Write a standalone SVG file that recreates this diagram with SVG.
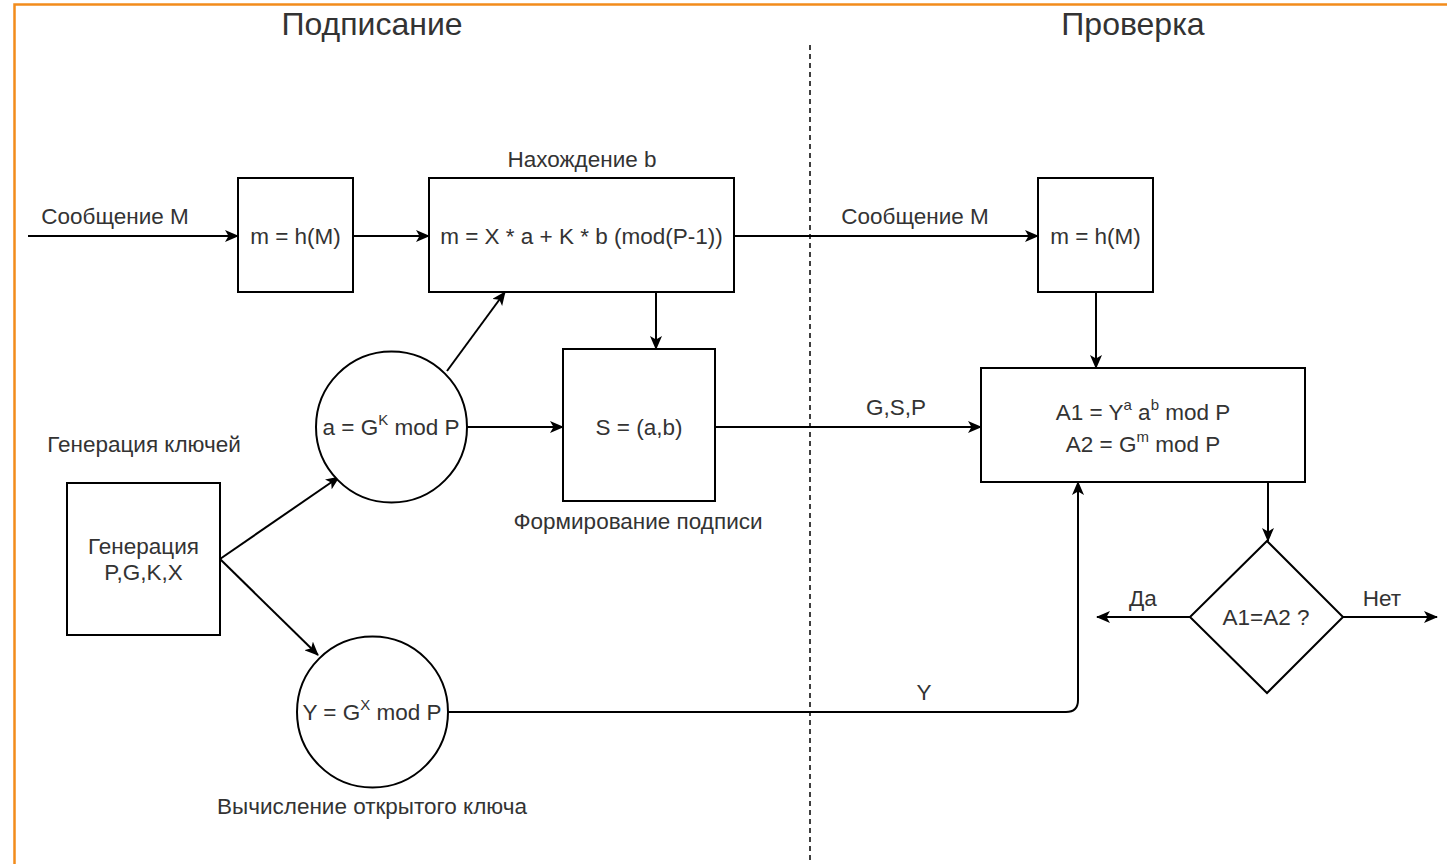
<svg xmlns="http://www.w3.org/2000/svg" width="1447" height="864" viewBox="0 0 1447 864">
  <defs>
    <marker id="arrow" viewBox="0 0 14 12" refX="13" refY="6" markerWidth="14" markerHeight="12" markerUnits="userSpaceOnUse" orient="auto">
      <path d="M0,0 L14,6 L0,12 L3.5,6 Z" fill="#000"/>
    </marker>
  </defs>
  <style>
    text { font-family: "Liberation Sans", Arial, sans-serif; fill: #333; }
    .t { font-size: 22.5px; }
    .title { font-size: 32px; }
    .shape { fill: #fff; stroke: #000; stroke-width: 2; }
    .edge { fill: none; stroke: #000; stroke-width: 2; }
    .sup { font-size: 15px; }
  </style>
  <rect x="0" y="0" width="1447" height="864" fill="#fff"/>
  <!-- frame -->
  <path d="M14.5,864 L14.5,4.5 L1447,4.5" fill="none" stroke="#f28c1c" stroke-width="2.5"/>

  <!-- section titles and divider -->
  <text class="title" x="372" y="35" text-anchor="middle">Подписание</text>
  <text class="title" x="1133" y="35" text-anchor="middle">Проверка</text>
  <line x1="810" y1="45" x2="810" y2="864" stroke="#000" stroke-width="1.5" stroke-dasharray="5,4"/>

  <g id="connectors">
    <path class="edge" d="M28,236 L238,236" marker-end="url(#arrow)"/>
    <path class="edge" d="M353,236 L429,236" marker-end="url(#arrow)"/>
    <path class="edge" d="M734,236 L1038,236" marker-end="url(#arrow)"/>
    <path class="edge" d="M1096,292 L1096,368" marker-end="url(#arrow)"/>
    <path class="edge" d="M656,292 L656,349" marker-end="url(#arrow)"/>
    <path class="edge" d="M447,371 L505,292" marker-end="url(#arrow)"/>
    <path class="edge" d="M467,427 L563,427" marker-end="url(#arrow)"/>
    <path class="edge" d="M715,427 L981,427" marker-end="url(#arrow)"/>
    <path class="edge" d="M220,559 L339,477" marker-end="url(#arrow)"/>
    <path class="edge" d="M220,559 L318,655" marker-end="url(#arrow)"/>
    <path class="edge" d="M448,712 L1066,712 Q1078,712 1078,700 L1078,482" marker-end="url(#arrow)"/>
    <path class="edge" d="M1268,482 L1268,541" marker-end="url(#arrow)"/>
    <path class="edge" d="M1190,617 L1097,617" marker-end="url(#arrow)"/>
    <path class="edge" d="M1343,617 L1437,617" marker-end="url(#arrow)"/>
    <text class="t" x="115" y="224" text-anchor="middle">Сообщение M</text>
    <text class="t" x="915" y="224" text-anchor="middle">Сообщение M</text>
    <text class="t" x="896" y="415" text-anchor="middle">G,S,P</text>
    <text class="t" x="924" y="700" text-anchor="middle">Y</text>
    <text class="t" x="1143" y="606" text-anchor="middle">Да</text>
    <text class="t" x="1382" y="606" text-anchor="middle">Нет</text>
  </g>

  <g id="hash-sign">
    <rect class="shape" x="238" y="178" width="115" height="114"/>
    <text class="t" x="295.5" y="244" text-anchor="middle">m = h(M)</text>
  </g>

  <g id="find-b">
    <rect class="shape" x="429" y="178" width="305" height="114"/>
    <text class="t" x="581.5" y="244" text-anchor="middle">m = X * a + K * b (mod(P-1))</text>
    <text class="t" x="582" y="167" text-anchor="middle">Нахождение b</text>
  </g>

  <g id="signature">
    <rect class="shape" x="563" y="349" width="152" height="152"/>
    <text class="t" x="639" y="435" text-anchor="middle">S = (a,b)</text>
    <text class="t" x="638" y="529" text-anchor="middle">Формирование подписи</text>
  </g>

  <g id="calc-a">
    <circle class="shape" cx="391.5" cy="427" r="75.5"/>
    <text class="t" x="391" y="435" text-anchor="middle">a = G<tspan class="sup" dy="-10">K</tspan><tspan dy="10"> mod P</tspan></text>
  </g>

  <g id="keygen">
    <rect class="shape" x="67" y="483" width="153" height="152"/>
    <text class="t" x="143.5" y="554" text-anchor="middle">Генерация</text>
    <text class="t" x="143.5" y="580" text-anchor="middle">P,G,K,X</text>
    <text class="t" x="144" y="452" text-anchor="middle">Генерация ключей</text>
  </g>

  <g id="public-key">
    <circle class="shape" cx="372.5" cy="712" r="75.5"/>
    <text class="t" x="372" y="720" text-anchor="middle">Y = G<tspan class="sup" dy="-10">X</tspan><tspan dy="10"> mod P</tspan></text>
    <text class="t" x="372" y="814" text-anchor="middle">Вычисление открытого ключа</text>
  </g>

  <g id="hash-verify">
    <rect class="shape" x="1038" y="178" width="115" height="114"/>
    <text class="t" x="1095.5" y="244" text-anchor="middle">m = h(M)</text>
  </g>

  <g id="compute-a1-a2">
    <rect class="shape" x="981" y="368" width="324" height="114"/>
    <text class="t" x="1143" y="420" text-anchor="middle">A1 = Y<tspan class="sup" dy="-10">a</tspan><tspan dy="10"> a</tspan><tspan class="sup" dy="-10">b</tspan><tspan dy="10"> mod P</tspan></text>
    <text class="t" x="1143" y="452" text-anchor="middle">A2 = G<tspan class="sup" dy="-10">m</tspan><tspan dy="10"> mod P</tspan></text>
  </g>

  <g id="compare">
    <polygon class="shape" points="1267,541 1343,617 1267,693 1190,617"/>
    <text class="t" x="1266" y="625" text-anchor="middle">A1=A2 ?</text>
  </g>
</svg>
